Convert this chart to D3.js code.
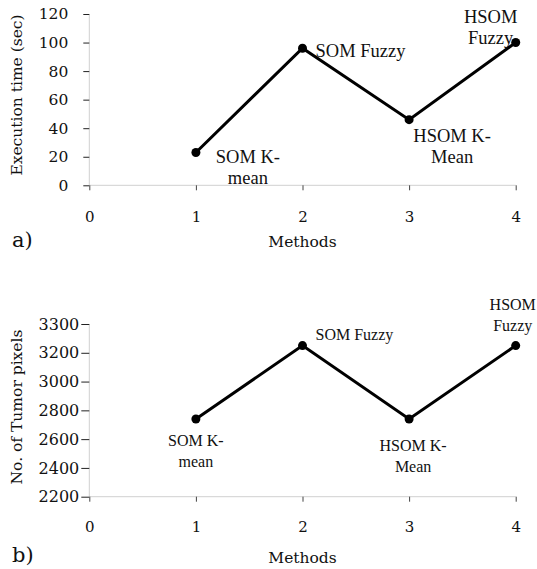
<!DOCTYPE html>
<html>
<head>
<meta charset="utf-8">
<script src="https://cdn.jsdelivr.net/npm/d3@7"></script>
<style>
  html, body { margin: 0; padding: 0; background: #fff; }
  svg { display: block; }
</style>
</head>
<body>
<svg id="chart" width="537" height="569"></svg>
<script>
// ---- Data ----
const methods = [1, 2, 3, 4];
const methodNames = [["SOM K-", "mean"], ["SOM Fuzzy"], ["HSOM K-", "Mean"], ["HSOM", "Fuzzy"]];
const execTime = [23, 96, 46, 100];
const tumorPixels = [2740, 3250, 2740, 3250];
const xTicks = [0, 1, 2, 3, 4];
const execTicks = [0, 20, 40, 60, 80, 100, 120];
const pixelTickValues = [2200, 2400, 2600, 2800, 3000, 3200, 3400];
const pixelTickLabels = ["2200", "2400", "2600", "2800", "3000", "3200", "3300"];

const svg = d3.select("#chart");
const axisFont = "'DejaVu Serif', Georgia, serif";
const labelFont = "'Liberation Serif', 'Times New Roman', serif";

function panel(cfg) {
  const g = svg.append("g");
  const x = d3.scaleLinear().domain([0, 4]).range([89.3, 515.7]);
  const y = d3.scaleLinear().domain(cfg.yDomain).range([cfg.yBottom, cfg.yTop]);

  // axis lines (light gray)
  g.append("line").attr("x1", x(0)).attr("x2", x(4)).attr("y1", cfg.yBottom).attr("y2", cfg.yBottom)
    .attr("stroke", "#d0d0d0").attr("stroke-width", 1);
  g.append("line").attr("x1", x(0)).attr("x2", x(0)).attr("y1", cfg.yBottom).attr("y2", cfg.yTop)
    .attr("stroke", "#d0d0d0").attr("stroke-width", 1);

  // y axis via d3.axisLeft
  const yAxis = d3.axisLeft(y).tickValues(cfg.yTickValues).tickSize(cfg.yTickLen).tickPadding(cfg.yPad)
    .tickFormat((d, i) => cfg.yTickLabels[i]);
  const ya = g.append("g").attr("transform", `translate(${x(0)},0)`).call(yAxis);
  ya.select(".domain").remove();
  ya.selectAll(".tick line").attr("stroke", "#222");
  ya.selectAll(".tick text").attr("font-family", axisFont).attr("font-size", cfg.yTickFont).attr("fill", "#111");

  // x axis via d3.axisBottom
  const xAxis = d3.axisBottom(x).tickValues(xTicks).tickSize(5).tickPadding(cfg.xPad).tickFormat(d3.format("d"));
  const xa = g.append("g").attr("transform", `translate(0,${cfg.yBottom})`).call(xAxis);
  xa.select(".domain").remove();
  xa.selectAll(".tick line").attr("stroke", "#444");
  xa.selectAll(".tick text").attr("font-family", axisFont).attr("font-size", cfg.xTickFont).attr("fill", "#111");

  // line
  const pts = methods.map((m, i) => [m, cfg.values[i]]);
  g.append("path").datum(pts)
    .attr("d", d3.line().x(d => x(d[0])).y(d => y(d[1])))
    .attr("fill", "none").attr("stroke", "#000").attr("stroke-width", 3).attr("stroke-linejoin", "miter");
  g.selectAll("circle.pt").data(pts).enter().append("circle")
    .attr("cx", d => x(d[0])).attr("cy", d => y(d[1])).attr("r", 4.5).attr("fill", "#000");

  // data labels
  methods.forEach((m, i) => {
    const off = cfg.labelOffsets[i];
    const t = g.append("text")
      .attr("x", x(m) + off[0]).attr("y", y(cfg.values[i]) + off[1])
      .attr("font-family", labelFont).attr("font-size", cfg.labelSize)
      .attr("text-anchor", off[2]).attr("fill", "#111");
    methodNames[i].forEach((line, j) => {
      t.append("tspan").attr("x", x(m) + off[0]).attr("dy", j === 0 ? 0 : cfg.lineH).text(line);
    });
  });

  // axis titles
  g.append("text").attr("x", x(2)).attr("y", cfg.methodsY).attr("text-anchor", "middle")
    .attr("font-family", axisFont).attr("font-size", cfg.titleSize).attr("fill", "#111").text("Methods");
  g.append("text").attr("transform", `translate(${cfg.yTitleX},${cfg.yTitleY}) rotate(-90)`)
    .attr("text-anchor", "middle").attr("font-family", axisFont).attr("font-size", cfg.titleSize)
    .attr("fill", "#111").text(cfg.yTitle);
  g.append("text").attr("x", 12).attr("y", cfg.letterY).attr("font-family", axisFont)
    .attr("font-size", 21).attr("fill", "#111").text(cfg.letter);
}

panel({
  yDomain: [0, 120], yBottom: 185.3, yTop: 14,
  yTickValues: execTicks, yTickLabels: execTicks.map(String),
  values: execTime, yTickFont: 15.5, xTickFont: 15, yTickLen: 6, yPad: 15, xPad: 21,
  labelSize: 18.5, lineH: 21,
  labelOffsets: [[52, 11, "middle"], [13, 9, "start"], [43, 22, "middle"], [-25, -20, "middle"]],
  methodsY: 247, yTitleX: 22, yTitleY: 95, titleSize: 15.5, yTitle: "Execution time (sec)",
  letter: "a)", letterY: 247
});

panel({
  yDomain: [2200, 3400], yBottom: 496.7, yTop: 324,
  yTickValues: pixelTickValues, yTickLabels: pixelTickLabels,
  values: tumorPixels, yTickFont: 16, xTickFont: 15, yTickLen: 8, yPad: 2, xPad: 20,
  labelSize: 16, lineH: 21,
  labelOffsets: [[0, 27, "middle"], [13, -6, "start"], [4, 32, "middle"], [-3, -36, "middle"]],
  methodsY: 563, yTitleX: 22, yTitleY: 407, titleSize: 15.5, yTitle: "No. of Tumor pixels",
  letter: "b)", letterY: 562
});
</script>
</body>
</html>
